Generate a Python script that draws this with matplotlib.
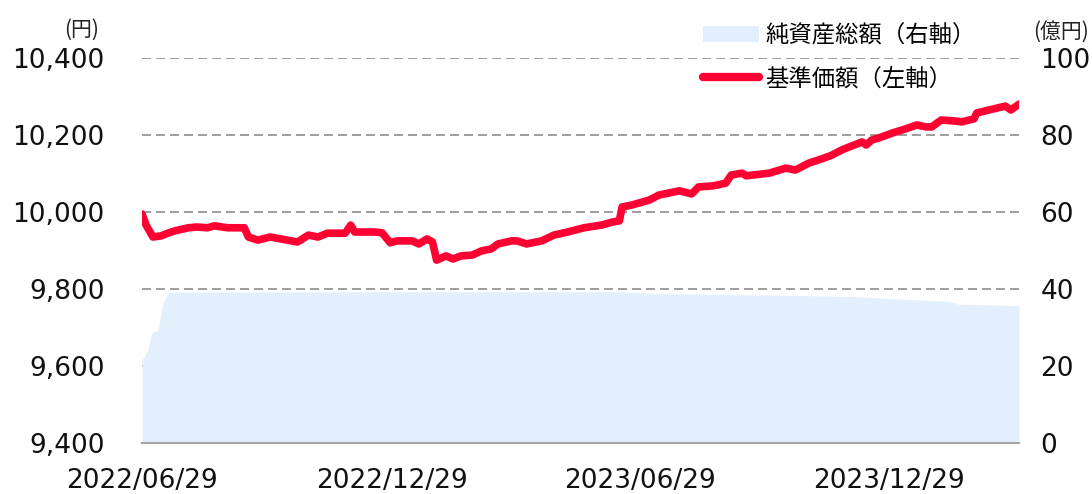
import pandas as pd
import matplotlib
matplotlib.use("Agg")
import matplotlib.pyplot as plt
from matplotlib.patches import Patch
from matplotlib.lines import Line2D

# 基準価額（左軸, 円）
nav_dates = [
    "2022-06-29", "2022-07-02", "2022-07-07", "2022-07-13", "2022-07-18", "2022-07-23",
    "2022-08-02", "2022-08-08", "2022-08-16", "2022-08-21", "2022-08-31", "2022-09-12",
    "2022-09-15", "2022-09-22", "2022-10-01", "2022-10-09", "2022-10-21", "2022-10-29",
    "2022-11-05", "2022-11-12", "2022-11-25", "2022-11-29", "2022-12-02", "2022-12-14",
    "2022-12-17", "2022-12-22", "2022-12-28", "2023-01-02", "2023-01-13", "2023-01-18",
    "2023-01-24", "2023-01-28", "2023-01-31", "2023-02-07", "2023-02-12", "2023-02-18",
    "2023-02-26", "2023-03-05", "2023-03-12", "2023-03-17", "2023-03-27", "2023-03-31",
    "2023-04-07", "2023-04-18", "2023-04-27", "2023-05-07", "2023-05-19", "2023-06-01",
    "2023-06-09", "2023-06-14", "2023-06-16", "2023-06-23", "2023-07-06", "2023-07-13",
    "2023-07-28", "2023-08-06", "2023-08-11", "2023-08-22", "2023-08-31", "2023-09-04",
    "2023-09-12", "2023-09-15", "2023-10-02", "2023-10-14", "2023-10-21", "2023-10-31",
    "2023-11-11", "2023-11-17", "2023-11-24", "2023-12-01", "2023-12-09", "2023-12-12",
    "2023-12-16", "2023-12-21", "2023-12-31", "2024-01-10", "2024-01-18", "2024-01-25",
    "2024-01-29", "2024-02-05", "2024-02-16", "2024-02-20", "2024-02-29", "2024-03-02",
    "2024-03-11", "2024-03-23", "2024-03-27", "2024-04-02",
]
nav_values = [
    9995, 9966, 9935, 9938, 9945, 9951,
    9959, 9961, 9959, 9964, 9959, 9959,
    9935, 9927, 9935, 9930, 9922, 9940,
    9935, 9945, 9945, 9966, 9948, 9948,
    9948, 9946, 9920, 9925, 9925, 9917,
    9930, 9922, 9875, 9886, 9878, 9886,
    9888, 9899, 9904, 9917, 9925, 9925,
    9917, 9925, 9940, 9948, 9959, 9966,
    9974, 9977, 10013, 10018, 10031, 10044,
    10055, 10047, 10065, 10068, 10075, 10096,
    10101, 10094, 10101, 10114, 10109, 10127,
    10140, 10148, 10161, 10171, 10182, 10174,
    10187, 10192, 10205, 10216, 10226, 10221,
    10221, 10239, 10236, 10234, 10242, 10257,
    10265, 10275, 10265, 10280,
]

# 純資産総額（右軸, 億円）
aum_dates = [
    "2022-06-29", "2022-07-03", "2022-07-06", "2022-07-11", "2022-07-14", "2022-07-19",
    "2023-01-15", "2023-06-15", "2023-07-13", "2023-10-24", "2023-11-29", "2023-12-14",
    "2024-01-05", "2024-02-11", "2024-02-18", "2024-04-02",
]
aum_values = [
    21.5, 24.0, 28.5, 29.5, 36.0, 39.2,
    39.3, 39.3, 38.8, 38.3, 38.1, 37.8,
    37.4, 36.8, 36.0, 35.7,
]

tick_dates = ["2022-06-29", "2022-12-29", "2023-06-29", "2023-12-29"]
tick_labels = ["2022/06/29", "2022/12/29", "2023/06/29", "2023/12/29"]
left_ticks = [9400, 9600, 9800, 10000, 10200, 10400]
right_ticks = [0, 20, 40, 60, 80, 100]

RED = "#FF0033"
BLUE = "#E3EFFC"
GRID = "#8C8C8C"
JP = ["Noto Sans CJK JP", "DejaVu Sans"]

nav_x = pd.to_datetime(nav_dates)
aum_x = pd.to_datetime(aum_dates)

fig = plt.figure(figsize=(10.92, 4.94), dpi=100)
ax = fig.add_axes([142 / 1092, 51 / 494, 877 / 1092, 385 / 494])
ax2 = ax.twinx()

# fill + grid on the right axis, line on top
ax.set_zorder(2)
ax2.set_zorder(1)
ax.patch.set_visible(False)

ax2.fill_between(aum_x, 0, aum_values, color=BLUE, linewidth=0)
ax2.set_ylim(0, 100)
ax2.set_yticks(right_ticks)
ax2.set_axisbelow(True)
ax2.yaxis.grid(True, color=GRID, linestyle=(0, (5.4, 3)), linewidth=1.2)

ax.plot(nav_x, nav_values, color=RED, linewidth=5.5, solid_capstyle="round",
        solid_joinstyle="round")
ax.set_ylim(9400, 10400)
ax.set_yticks(left_ticks)
ax.set_yticklabels([f"{v:,}" for v in left_ticks])
ax.set_xlim(nav_x[0], nav_x[-1])
ax.set_xticks(pd.to_datetime(tick_dates))
ax.set_xticklabels(tick_labels)

for a in (ax, ax2):
    for s in a.spines.values():
        s.set_visible(False)
ax.spines["bottom"].set_visible(True)
ax.spines["bottom"].set_color("#A6A6A6")
ax.spines["bottom"].set_linewidth(1.5)

ax.tick_params(axis="y", length=0, pad=27, labelsize=19, labelcolor="#111111")
ax.tick_params(axis="x", length=0, pad=18, labelsize=19, labelcolor="#111111")
ax2.tick_params(axis="y", length=0, pad=15.5, labelsize=19, labelcolor="#111111")

fig.text(82 / 1092, 1 - 30 / 494, "(円)", family=JP, fontsize=15,
         ha="center", va="center", color="#222222")
fig.text(1061 / 1092, 1 - 32 / 494, "(億円)", family=JP, fontsize=15,
         ha="center", va="center", color="#222222")

handles = [
    Patch(facecolor=BLUE, edgecolor="none"),
    Line2D([], [], color=RED, linewidth=6, solid_capstyle="round"),
]
labels = ["純資産総額（右軸）", "基準価額（左軸）"]
fig.legend(handles, labels, loc="upper left",
           bbox_to_anchor=(694 / 1092, 1 - 15 / 494),
           prop={"family": JP, "size": 16.8}, frameon=False,
           handlelength=2.4, handletextpad=0.25, labelspacing=0.86,
           borderaxespad=0)

fig.savefig("out.png", dpi=100)
